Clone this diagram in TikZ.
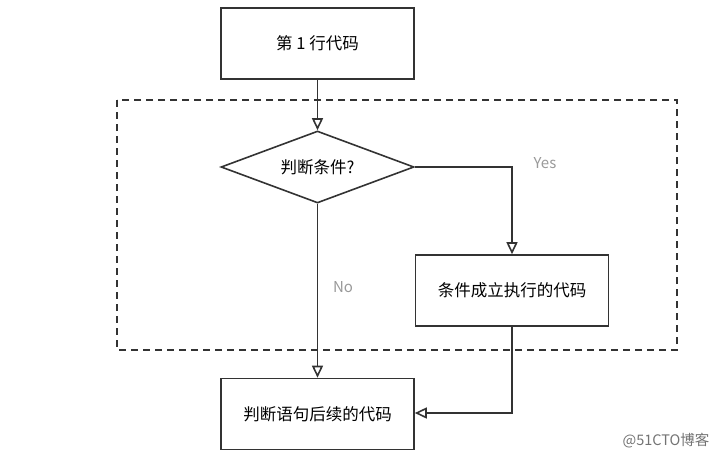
\documentclass[tikz,border=0pt]{standalone}
\usepackage{fontspec}
\setmainfont{Noto Sans CJK SC}
\usetikzlibrary{arrows.meta,shapes.geometric}

\definecolor{linegray}{HTML}{333333}
\definecolor{labelgray}{HTML}{999999}

\tikzset{
	codebox/.style={draw=linegray, line width=1.6pt, minimum width=193pt, minimum height=71pt, inner sep=0pt, font=\fontsize{16.5}{19}\selectfont},
	testbox/.style={draw=linegray, line width=1.6pt, diamond, aspect=2.68, minimum width=193pt, minimum height=72pt, inner sep=0pt, font=\fontsize{16.5}{19}\selectfont},
	flow/.style={draw=linegray, line width=1.6pt, -{Triangle[open, length=12pt, width=11pt]}},
	branch/.style={text=labelgray, font=\fontsize{15}{17}\selectfont}
}

\begin{document}
\begin{tikzpicture}[x=1pt, y=-1pt]
				\useasboundingbox (0,0) rectangle (727,461);
				
				% the part that belongs to the if
				\draw[linegray, line width=1.6pt, dash pattern=on 7pt off 5pt] (117,100) rectangle (677,350);
				
				\node[codebox] (first) at (317.5,43.5) {第 1 行代码};
				\node[testbox] (test) at (317.5,167) {判断条件?};
				\node[codebox] (then) at (512,290.5) {条件成立执行的代码};
				\node[codebox] (after) at (317.5,414) {判断语句后续的代码};
				\coordinate (turn) at (512,413);
				
				\draw[flow] (first) -- (test);
				\draw[flow] (test.east) -| (then.north);
				\draw[flow] (test.south) -- (after.north);
				\draw[flow] (then.south) -- (turn) -- (after.east |- turn);
				
				\node[branch] (yes) at (545,163) {Yes};
				\node[branch] (no) at (343,287) {No};
				
				\node[text=black!55, font=\fontsize{14.5}{17}\selectfont] (mark) at (666,441) {@51CTO博客};
			\end{tikzpicture}
\end{document}
